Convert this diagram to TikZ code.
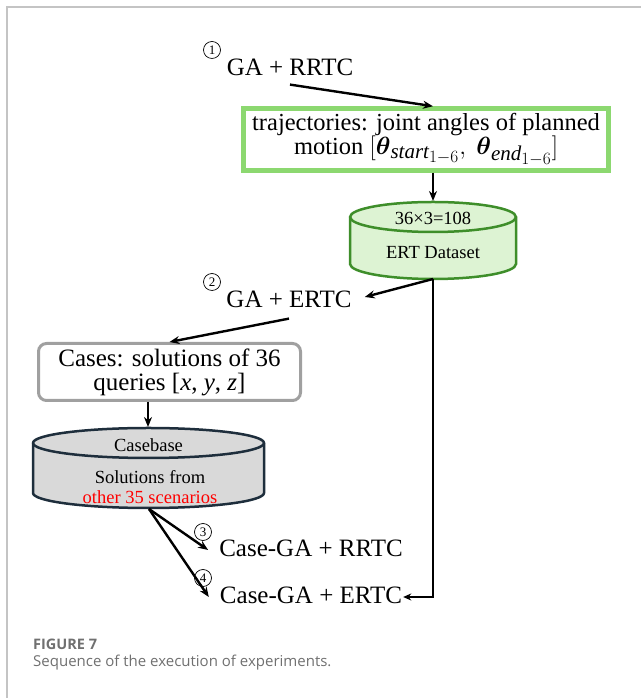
\documentclass[tikz,border=0pt]{standalone}
\usepackage{amsmath}
\usepackage{fontspec}
\setmainfont{Liberation Serif}
\newfontfamily\capfont{Open Sans}
\usetikzlibrary{arrows.meta}
\definecolor{boxgreen}{HTML}{8CD870}
\definecolor{cylfill}{HTML}{DDF3D3}
\definecolor{cyledge}{HTML}{3E8E2A}
\definecolor{cbfill}{HTML}{D9D9D9}
\definecolor{cbedge}{HTML}{1E2E3C}
\definecolor{casegray}{HTML}{A0A0A0}
\definecolor{framegray}{HTML}{C4C4C4}
\definecolor{capgray}{HTML}{707070}
\newcommand\thsub[1]{\boldsymbol{\theta}_{\hbox{\fontsize{21}{21}\selectfont$\mathit{#1}_{\hbox{\fontsize{16}{16}\selectfont$1{-}6$}}$}}}
\begin{document}
\begin{tikzpicture}[x=1pt,y=1pt,
  big/.style={font=\fontsize{25}{24}\selectfont, inner sep=0pt},
  mid/.style={font=\fontsize{18.5}{20}\selectfont, inner sep=0pt},
  num/.style={circle, draw, line width=0.7pt, minimum size=17pt, inner sep=0pt,
    font=\fontsize{13}{13}\selectfont},
  arr/.style={-{Stealth[length=10pt,width=8pt]}, line width=2.4pt},
  arrthin/.style={-{Stealth[length=8pt,width=7pt]}, line width=2pt},
  trajbox/.style={draw=boxgreen, line width=4.5pt, minimum width=365pt, minimum height=62pt,
    align=center, inner sep=0pt, font=\fontsize{24.5}{24}\selectfont},
  casebox/.style={draw=casegray, line width=3pt, rounded corners=8pt, minimum width=262pt,
    minimum height=57pt, align=center, inner sep=0pt, font=\fontsize{25}{24}\selectfont},
  cylgreen/.style={draw=cyledge, fill=cylfill, line width=2.5pt},
  cylgray/.style={draw=cbedge, fill=cbfill, line width=2.5pt}
]
\useasboundingbox (0,0) rectangle (641,698);
\draw[framegray, line width=1.5pt] (7,0) -- (7,691) -- (641,691);

% step 1
\node[num] (n1) at (212,648) {1};
\node[big] (ga1) at (290,631) {GA + RRTC};
\node[trajbox] (traj) at (426,558.5) {trajectories: joint angles of planned\\motion $[\thsub{start},\ \thsub{end}]$};

% ERT dataset cylinder
\coordinate (ertT) at (433,497);
\coordinate (ertB) at (433,419);
\path[cylgreen] (350,481) -- (350,434) arc[start angle=180,end angle=360,x radius=83pt,y radius=15pt]
  -- (516,481) arc[start angle=0,end angle=180,x radius=83pt,y radius=15pt] -- cycle;
\draw[cyledge, line width=2.5pt] (350,481) arc[start angle=180,end angle=360,x radius=83pt,y radius=15pt];
\node[mid] (ertnum) at (433,480) {36×3=108};
\node[mid] (ertlbl) at (433,445) {ERT Dataset};

% step 2
\node[num] (n2) at (212,416) {2};
\node[big] (ga2) at (289,399) {GA + ERTC};
\node[casebox] (cases) at (169.5,326) {Cases: solutions of 36\\queries [\textit{x}, \textit{y}, \textit{z}]};

% casebase cylinder
\coordinate (cbT) at (148,271);
\coordinate (cbB) at (149,189);
\path[cylgray] (33,255) -- (33,205) arc[start angle=180,end angle=360,x radius=115.5pt,y radius=15pt]
  -- (264,255) arc[start angle=0,end angle=180,x radius=115.5pt,y radius=15pt] -- cycle;
\draw[cbedge, line width=2.5pt] (33,255) arc[start angle=180,end angle=360,x radius=115.5pt,y radius=15pt];
\node[mid] (cblbl) at (148.5,253) {Casebase};
\node[mid] (cbsol) at (150,221) {Solutions from};
\node[mid, text=red] (cbother) at (150,201) {other 35 scenarios};

% steps 3 and 4
\node[num] (n3) at (203,166) {3};
\node[big] (cga1) at (311,150) {Case-GA + RRTC};
\node[num] (n4) at (203,120) {4};
\node[big] (cga2) at (311,103) {Case-GA + ERTC};

% connectors
\draw[arr] ([yshift=-9pt]ga1.south) -- (traj.north -| ertT);
\draw[arr] (traj.south -| ertT) -- (ertT);
\draw[arr] (ertB) -- ([xshift=13pt,yshift=2pt]ga2.east);
\draw[arr] ([yshift=-11pt]ga2.south) -- (cases.north);
\draw[arr] (cases.south -| cbT) -- (cbT);
\draw[arr] (cbB) -- ([xshift=-11pt,yshift=-2pt]cga1.west);
\draw[arr] (cbB) -- ([xshift=-11pt,yshift=-2pt]cga2.west);
\draw[arrthin] (ertB) |- ([xshift=1pt,yshift=-2pt]cga2.east);

% caption
\node[anchor=west, inner sep=0pt, text=capgray, font=\capfont\bfseries\fontsize{14.5}{16}\selectfont] (fig) at (33,54) {FIGURE 7};
\node[anchor=west, inner sep=0pt, text=capgray, font=\capfont\fontsize{15}{18}\selectfont] (capt) at (33,35) {Sequence of the execution of experiments.};
\end{tikzpicture}
\end{document}
